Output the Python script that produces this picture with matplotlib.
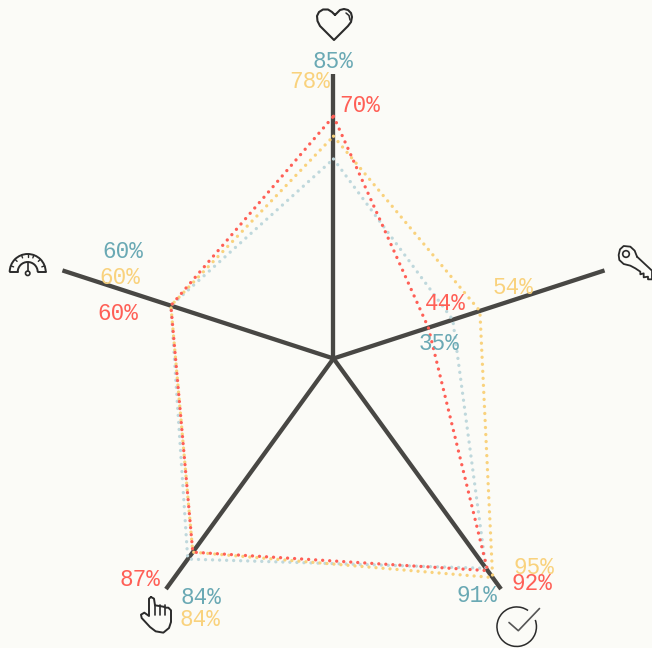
import numpy as np
from matplotlib import pyplot as plt
from matplotlib.patches import Arc, Circle

W, H = 652, 648

# share of each axis, clockwise from the top (heart, key, check, hand, gauge)
red_vals = [0.85, 0.35, 0.92, 0.84, 0.60]
yellow_vals = [0.78, 0.54, 0.95, 0.84, 0.60]
blue_vals = [0.70, 0.44, 0.91, 0.87, 0.60]

# printed labels, the chart prints them like this even if they differ from the shapes
red_labels = ['70%', '44%', '92%', '87%', '60%']
yellow_labels = ['78%', '54%', '95%', '84%', '60%']
blue_labels = ['85%', '35%', '91%', '84%', '60%']

BG = '#fbfbf7'
RED = '#ff5f56'
YELLOW = '#f9d27d'
BLUE = '#bfd8dc'
BLUE_TEXT = '#6aa9b4'
AXIS = '#484744'
ICON = '#2b2b2b'

fig = plt.figure(figsize=(W / 100, H / 100), dpi=100, facecolor=BG)

# radar, radius 1 is 285 px around (333.5, 358.5)
ax = fig.add_axes([48.5 / W, 4.5 / H, 570 / W, 570 / H], projection='polar')
ax.set_theta_zero_location('N')
ax.set_theta_direction(-1)
ax.set_ylim(0, 1)
ax.axis('off')

angles = np.deg2rad([0, 72, 144, 216, 288])
for a in angles:
    ax.plot([a, a], [0, 1], color=AXIS, lw=3.1, solid_capstyle='butt', clip_on=False, zorder=2)

for vals, col in [(blue_vals, BLUE), (yellow_vals, YELLOW), (red_vals, RED)]:
    ax.plot(list(angles) + [angles[0]], vals + [vals[0]], color=col, lw=2.4,
            linestyle=(0, (0.01, 2.1)), dash_capstyle='round', clip_on=False, zorder=3)

# overlay in pixels for the texts and icons
ov = fig.add_axes([0, 0, 1, 1])
ov.set_xlim(0, W)
ov.set_ylim(H, 0)
ov.axis('off')
ov.patch.set_alpha(0)

red_pos = [(360, 105), (445, 304), (532, 584), (140, 580), (118, 314)]
yellow_pos = [(310, 82), (513, 288), (534, 567), (200, 619), (120, 277)]
blue_pos = [(333, 62), (439, 344), (477, 595), (201, 597), (123, 251)]

for labels, pos, col in [(blue_labels, blue_pos, BLUE_TEXT),
                         (yellow_labels, yellow_pos, YELLOW),
                         (red_labels, red_pos, RED)]:
    for txt, (x, y) in zip(labels, pos):
        ov.text(x, y, txt, color=col, fontsize=16.3, family='Liberation Mono',
                ha='center', va='center')


def icon(points, lw=1.5, close=False, color=ICON, x0=0, y0=0, scale=1):
    xs = [x0 + p[0] / scale for p in points]
    ys = [y0 + p[1] / scale for p in points]
    if close:
        xs.append(xs[0])
        ys.append(ys[0])
    ov.plot(xs, ys, color=color, lw=lw, solid_joinstyle='round', solid_capstyle='round', clip_on=False)


# heart
icon([(335, 15), (332, 12), (328, 9.5), (323, 9.5), (319, 12), (317, 16), (317.5, 21),
      (320, 26), (334, 40), (348, 26), (351, 22), (352, 17), (351, 13), (348, 10),
      (344, 9), (340, 10), (335, 15)])
icon([(346, 13), (349, 15.5), (350, 20)], lw=1.1)

# key
ov.add_patch(Circle((626, 254), 3.3, fill=False, ec=ICON, lw=1.2))
icon([(75, 50), (120, 92), (120, 118), (108, 118), (108, 110), (95, 112), (95, 100), (85, 103),
      (85, 95), (70, 85), (55, 77), (35, 72), (22, 60), (20, 45), (24, 28), (35, 18),
      (55, 20), (68, 32), (75, 50)], lw=1.3, x0=612, y0=240, scale=3)

# gauge
ov.add_patch(Arc((27.7, 272), 36, 36, theta1=180, theta2=360, ec=ICON, lw=1.4))
ov.add_patch(Arc((27.7, 272), 20, 20, theta1=180, theta2=360, ec=ICON, lw=1.4))
icon([(10, 272), (18, 272)], lw=1.4)
icon([(37.5, 272), (45.7, 272)], lw=1.4)
for t in np.deg2rad([200, 225, 250, 270, 290, 315, 340]):
    icon([(27.7 + 15 * np.cos(t), 272 + 15 * np.sin(t)),
          (27.7 + 18 * np.cos(t), 272 + 18 * np.sin(t))], lw=1.0)
icon([(27.7, 263), (27.7, 271)], lw=1.2)
ov.add_patch(Circle((27.7, 273.3), 2.2, fill=False, ec=ICON, lw=1.2))

# hand
icon([(48, 15), (42, 20), (42, 72), (28, 62), (18, 68), (20, 78), (45, 105), (62, 118), (85, 122),
      (102, 108), (108, 90), (108, 55), (100, 47), (92, 47), (85, 44), (73, 42), (60, 40),
      (57, 20), (48, 15)], lw=1.4, x0=135, y0=592, scale=3)
for zx in [59, 74, 90]:
    icon([(zx, 40), (zx, 70)], lw=1.2, x0=135, y0=592, scale=3)

# check
ov.add_patch(Arc((516.7, 626.7), 39.5, 39.5, theta1=-20, theta2=305, ec=ICON, lw=1.1))
icon([(509, 622.5), (518.3, 630.7), (539.5, 608.5)], lw=1.2, color='#555555')

fig.savefig('out.png', dpi=100, facecolor=BG)
